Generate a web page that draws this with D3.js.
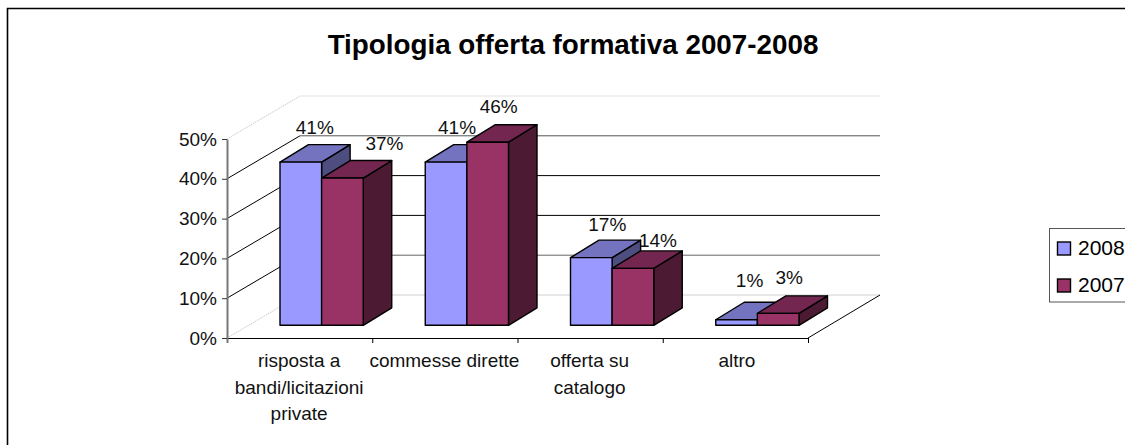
<!DOCTYPE html>
<html><head><meta charset="utf-8">
<script src="https://cdnjs.cloudflare.com/ajax/libs/d3/7.8.5/d3.min.js"></script>
<style>html,body{margin:0;padding:0;background:#fff;overflow:hidden}svg{display:block}text{font-family:"Liberation Sans",Arial,sans-serif;fill:#111}</style>
</head><body><svg id="c" width="1125" height="445"></svg>
<script>
const titleText = "Tipologia offerta formativa 2007-2008";
const categories = [["risposta a","bandi/licitazioni","private"],["commesse dirette"],["offerta su","catalogo"],["altro"]];
const seriesNames = ["2008","2007"];
const values2008 = [41,41,17,1.4];
const values2007 = [37,46,14.3,3];
const yTicks = [0,10,20,30,40,50];

// layout and style
const X0=227,X1=808,Y0=338,Y50=139,DX=73,DY=-43;
const barInsetX=22,barInsetY=-12.7,barDX=28.5,barDY=-17.5;
const colors=[{f:"#9999FF",t:"#7373BF",s:"#4D4D80"},{f:"#993366",t:"#732650",s:"#4D1A33"}];
const wallGridColors=["#d0d0d0","#666","#000","#000","#555","#e0e0e0"];
const labelNudge=[[[14,134],[42,150]],[[11,134],[11,113]],[[16,231],[25,247]],[[13,287],[11,284]]];
const labelFont=19;

const svg=d3.select("#c");
const y=d3.scaleLinear().domain([0,50]).range([Y0,Y50]);
const x=d3.scaleBand().domain(d3.range(categories.length)).range([X0,X1]);
const s=d3.scaleBand().domain([0,1]).range([31,x.bandwidth()-31]);
const series=[values2008,values2007];

// chart frame
svg.append("path").attr("d","M7.5,445V8.5H1125").attr("fill","none").attr("stroke","#000").attr("stroke-width",1.6);
svg.append("text").attr("x",573).attr("y",53.5).attr("text-anchor","middle").attr("font-weight","bold").attr("font-size",27.8).style("fill","#000").text(titleText);

// back wall grid + left wall diagonals
yTicks.forEach((t,i)=>{
  const yy=y(t);
  svg.append("line").attr("x1",X0+DX).attr("x2",X1+DX-1).attr("y1",yy+DY).attr("y2",yy+DY)
    .attr("stroke",wallGridColors[i]).attr("stroke-width",1);
  const dotted=(t===0||t===50);
  svg.append("line").attr("x1",X0).attr("y1",yy).attr("x2",X0+DX).attr("y2",yy+DY)
    .attr("stroke",dotted?"#c8c8c8":"#000").attr("stroke-width",1)
    .attr("stroke-dasharray",dotted?"1.5 1":null);
});
// floor right edge
svg.append("line").attr("x1",X1).attr("y1",Y0).attr("x2",X1+DX-1).attr("y2",Y0+DY).attr("stroke","#000");

// axes
const xTickPos=d3.range(categories.length+1).map(i=>X0+i*x.step());
const xTickScale=d3.scaleLinear().domain([X0,X1]).range([X0,X1]);
const gx=svg.append("g").attr("transform",`translate(0,${Y0})`)
  .call(d3.axisBottom(xTickScale).tickValues(xTickPos).tickSize(5).tickSizeOuter(0).tickFormat(""));
gx.select(".domain").attr("stroke","#000").attr("stroke-width",1.2);
gx.selectAll(".tick line").attr("stroke","#000");
gx.selectAll(".tick line").filter((d,i)=>i===0).attr("stroke","#777").attr("stroke-width",2);

const yAxis=d3.axisLeft(y).tickValues(yTicks).tickSize(5).tickSizeOuter(0).tickPadding(5).tickFormat(d=>d+"%");
const gy=svg.append("g").attr("transform",`translate(${X0},0)`).call(yAxis);
gy.attr("font-family",null);
gy.select(".domain").attr("stroke","#777").attr("stroke-width",2);
gy.selectAll(".tick line").attr("stroke","#333");
gy.selectAll("text").attr("font-size",labelFont).attr("fill",null);

// bars
categories.forEach((c,i)=>{
  series.forEach((vals,k)=>{
    const v=vals[i],col=colors[k];
    const xl=x(i)+s(k)+barInsetX, w=s.bandwidth();
    const yb=y(0)+barInsetY, yt=y(v)+barInsetY;
    const g=svg.append("g").attr("stroke","#000").attr("stroke-width",1.4).attr("stroke-linejoin","round");
    g.append("path").attr("fill",col.s).attr("d",`M${xl+w},${yt}L${xl+w+barDX},${yt+barDY}V${yb+barDY}L${xl+w},${yb}Z`);
    g.append("path").attr("fill",col.t).attr("d",`M${xl},${yt}L${xl+barDX},${yt+barDY}H${xl+w+barDX}L${xl+w},${yt}Z`);
    g.append("rect").attr("x",xl).attr("y",yt).attr("width",w).attr("height",yb-yt).attr("fill",col.f);
  });
});
// data labels
categories.forEach((c,i)=>{
  series.forEach((vals,k)=>{
    const n=labelNudge[i][k];
    svg.append("text").attr("x",x(i)+s(k)+barInsetX+s.bandwidth()/2+n[0]).attr("y",n[1])
      .attr("text-anchor","middle").attr("font-size",labelFont)
      .text(d3.format(".0f")(vals[i])+"%");
  });
});

// category labels
categories.forEach((lines,i)=>{
  lines.forEach((t,j)=>{
    svg.append("text").attr("x",x(i)+x.bandwidth()/2+(i===3?1.5:-0.5)).attr("y",367.3+j*26.2)
      .attr("text-anchor","middle").attr("font-size",labelFont).text(t);
  });
});

// legend
svg.append("rect").attr("x",1049.5).attr("y",228.5).attr("width",90).attr("height",73.5).attr("fill","#fff").attr("stroke","#555").attr("stroke-width",1);
seriesNames.forEach((n,k)=>{
  const ly=242+k*37;
  svg.append("rect").attr("x",1057.5).attr("y",ly).attr("width",13).attr("height",13).attr("fill",colors[k].f).attr("stroke","#000").attr("stroke-width",1.4);
  svg.append("text").attr("x",1078).attr("y",ly+13).attr("font-size",21).style("fill","#000").text(n);
});
</script></body></html>
